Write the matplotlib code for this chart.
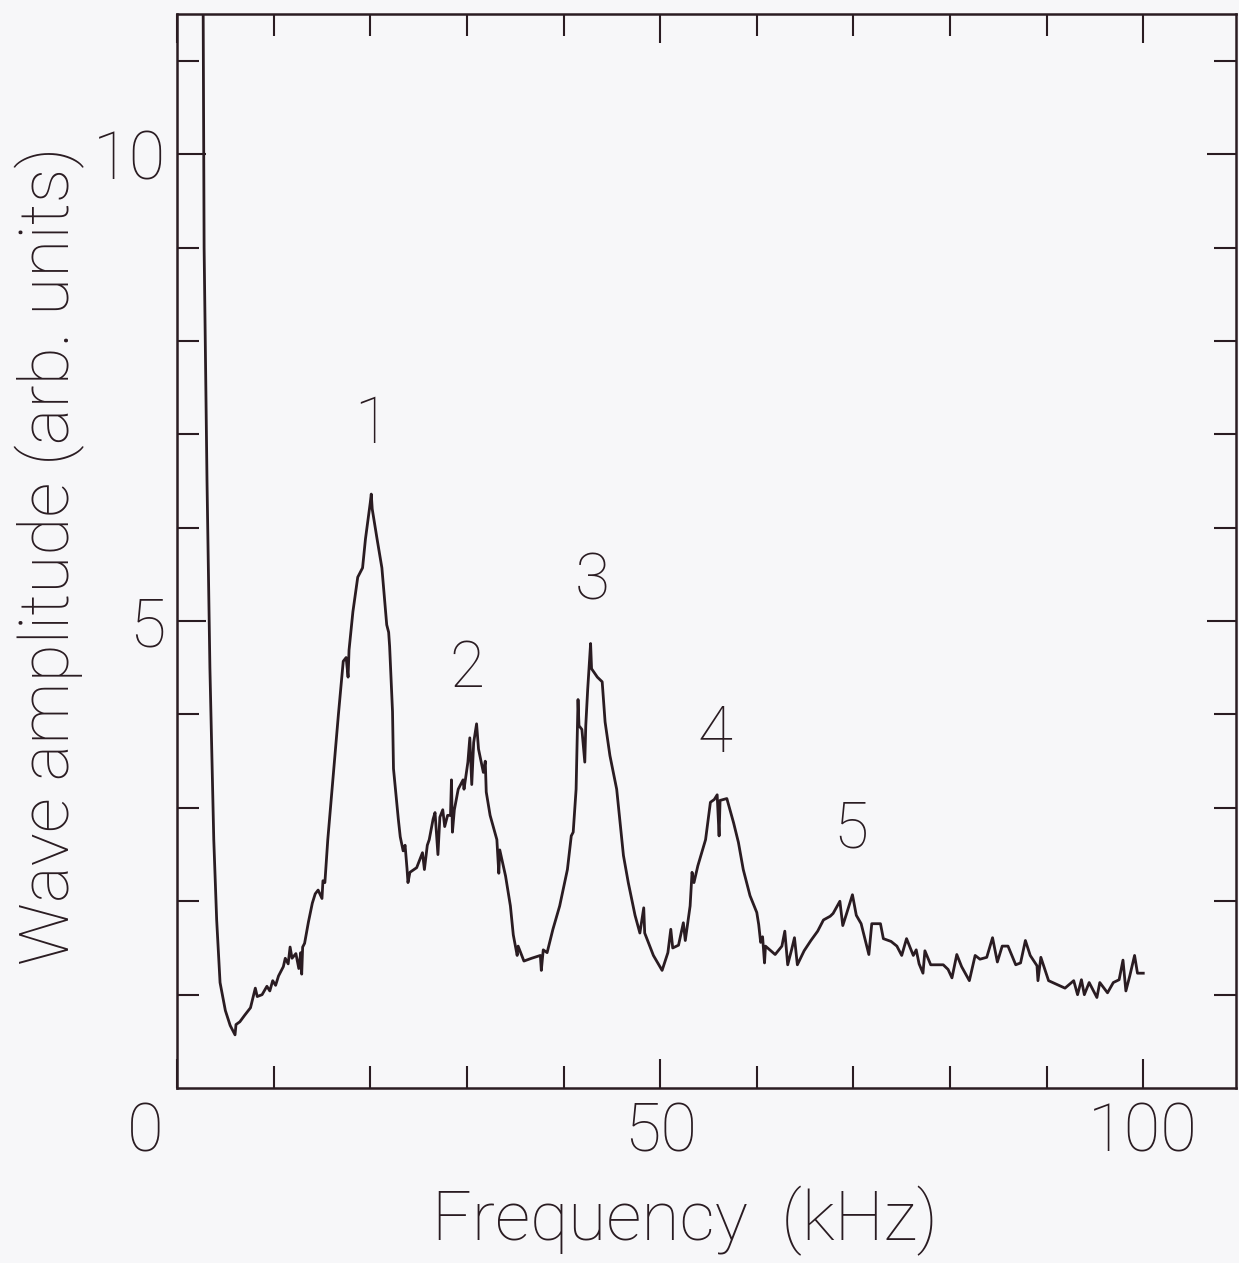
import numpy as np
import matplotlib
matplotlib.use("Agg")
import matplotlib.pyplot as plt
import matplotlib.transforms as mtransforms

# trace, piece by piece: (frequency kHz, amplitude arb. units)
drop = [
    (2.7, 11.6), (2.8, 9.0), (3.1, 6.5), (3.4, 4.5), (3.8, 2.66), (4.1, 1.8),
    (4.45, 1.13), (5.0, 0.83), (5.5, 0.67), (6.0, 0.57), (6.1, 0.68), (6.5, 0.71),
    (7.0, 0.78), (7.6, 0.86), (8.1, 1.07), (8.3, 0.98), (8.8, 1.0), (9.3, 1.09),
    (9.6, 1.04), (9.9, 1.15), (10.2, 1.1), (10.5, 1.2), (11.0, 1.3), (11.2, 1.39),
    (11.5, 1.33), (11.7, 1.51), (11.9, 1.39), (12.3, 1.44), (12.6, 1.28),
    (12.8, 1.45), (12.9, 1.22), (13.0, 1.51), (13.2, 1.55), (13.6, 1.78),
    (14.0, 1.98), (14.3, 2.08), (14.6, 2.12), (15.0, 2.03), (15.1, 2.22),
    (15.3, 2.2),
]
peak_1 = [
    (15.6, 2.66), (16.1, 3.27), (16.7, 4.0), (17.2, 4.57), (17.5, 4.61),
    (17.7, 4.4), (17.8, 4.69), (18.2, 5.1), (18.7, 5.47), (19.2, 5.57),
    (19.5, 5.88), (20.0, 6.27), (20.1, 6.36), (20.2, 6.2), (20.7, 5.88),
    (21.2, 5.57), (21.7, 4.96), (21.9, 4.88), (22.0, 4.73), (22.3, 4.03),
    (22.4, 3.42), (22.9, 2.88), (23.1, 2.69), (23.4, 2.54), (23.6, 2.6),
    (23.8, 2.35), (23.9, 2.2),
]
peak_2 = [
    (24.1, 2.31), (24.8, 2.36), (25.4, 2.52), (25.6, 2.34), (25.9, 2.6),
    (26.1, 2.66), (26.5, 2.88), (26.7, 2.95), (27.0, 2.5), (27.2, 2.9),
    (27.5, 2.98), (27.7, 2.8), (28.0, 2.92), (28.3, 2.92), (28.4, 3.3),
    (28.5, 2.74), (28.7, 2.98), (29.1, 3.2), (29.6, 3.3), (29.7, 3.2),
    (30.1, 3.49), (30.3, 3.75), (30.5, 3.25), (30.7, 3.7), (31.0, 3.9),
    (31.2, 3.63), (31.7, 3.38), (31.9, 3.5), (32.0, 3.17), (32.4, 2.92),
    (33.1, 2.66), (33.3, 2.3), (33.4, 2.55), (34.0, 2.27), (34.5, 1.95),
    (34.8, 1.64), (35.0, 1.53), (35.2, 1.42), (35.3, 1.52), (35.9, 1.36),
    (36.7, 1.39), (37.6, 1.42), (37.7, 1.26), (37.9, 1.48), (38.3, 1.45),
]
peak_3 = [
    (38.9, 1.7), (39.6, 1.95), (40.4, 2.34), (40.8, 2.7), (41.0, 2.74),
    (41.3, 3.2), (41.5, 4.16), (41.6, 3.88), (41.9, 3.84), (42.2, 3.49),
    (42.3, 3.88), (42.5, 4.27), (42.8, 4.76), (42.9, 4.49), (43.5, 4.4),
    (44.0, 4.35), (44.3, 3.92), (44.8, 3.56), (45.5, 3.2), (46.2, 2.49),
    (46.7, 2.2), (46.9, 2.1), (47.4, 1.85), (47.9, 1.66), (48.3, 1.93),
    (48.4, 1.66), (49.3, 1.42), (50.2, 1.26),
]
peak_4 = [
    (50.8, 1.45), (51.1, 1.7), (51.3, 1.5), (51.9, 1.53), (52.4, 1.77),
    (52.6, 1.58), (53.1, 1.95), (53.3, 2.31), (53.5, 2.2), (53.9, 2.38),
    (54.7, 2.66), (55.2, 3.06), (55.6, 3.09), (55.9, 3.14), (56.1, 2.7),
    (56.2, 3.08), (56.9, 3.1), (57.6, 2.84), (58.1, 2.63), (58.6, 2.34),
    (59.3, 2.06), (60.0, 1.88), (60.2, 1.75), (60.4, 1.56), (60.6, 1.62),
    (60.8, 1.34), (60.9, 1.52), (61.9, 1.43), (62.6, 1.52), (62.9, 1.68),
    (63.2, 1.32), (63.6, 1.48), (63.9, 1.61), (64.2, 1.32), (64.9, 1.47),
]
peak_5 = [
    (65.6, 1.58), (66.3, 1.68), (66.9, 1.8), (67.6, 1.84), (67.9, 1.87),
    (68.6, 2.0), (68.9, 1.74), (69.3, 1.87), (69.9, 2.07), (70.3, 1.85),
    (70.8, 1.76), (71.6, 1.43), (71.9, 1.76), (72.8, 1.76), (73.1, 1.6),
    (73.9, 1.57), (74.5, 1.52), (75.0, 1.42), (75.5, 1.6), (76.2, 1.42),
    (76.5, 1.48), (76.8, 1.33), (77.2, 1.23), (77.4, 1.47), (78.0, 1.32),
]
tail = [
    (79.3, 1.32), (79.8, 1.27), (80.2, 1.18), (80.7, 1.43), (81.2, 1.3),
    (82.0, 1.15), (82.6, 1.42), (83.1, 1.38), (83.8, 1.4), (84.4, 1.61),
    (84.9, 1.35), (85.4, 1.52), (86.0, 1.52), (86.8, 1.32), (87.3, 1.34),
    (87.8, 1.58), (88.3, 1.42), (89.0, 1.31), (89.1, 1.15), (89.4, 1.4),
    (90.2, 1.15), (91.9, 1.07), (92.8, 1.15), (93.2, 1.0), (93.6, 1.16),
    (93.9, 1.0), (94.4, 1.13), (95.2, 0.97), (95.5, 1.13), (96.3, 1.02),
    (96.9, 1.13), (97.5, 1.16), (97.9, 1.37), (98.2, 1.04), (98.6, 1.2),
    (99.1, 1.42), (99.4, 1.23), (100.0, 1.23),
]

peak_labels = ["1", "2", "3", "4", "5"]
peak_x = [20.1, 30.0, 43.0, 55.7, 69.7]
peak_y = [7.1, 4.49, 5.42, 3.79, 2.77]

ink = "#2a1c22"
paper = "#f7f7f9"

plt.rcParams["font.family"] = ["Roboto", "DejaVu Sans"]
plt.rcParams["font.weight"] = "light"
plt.rcParams["axes.labelweight"] = "light"

trace = drop + peak_1 + peak_2 + peak_3 + peak_4 + peak_5 + tail
freq_khz = [p[0] for p in trace]
amplitude = [p[1] for p in trace]

fig = plt.figure(figsize=(12.39, 12.63), dpi=100, facecolor=paper)
ax = fig.add_axes([0.1429, 0.1385, 0.8547, 0.8504])
ax.set_facecolor(paper)

ax.plot(freq_khz, amplitude, color=ink, lw=2.0)

for lab, x, y in zip(peak_labels, peak_x, peak_y):
    ax.text(x, y, lab, fontsize=46, color=ink, ha="center", va="center")

ax.set_xlim(0, 109.6)
ax.set_ylim(0, 11.5)

ax.set_xticks([0, 50, 100])
ax.set_xticks(np.arange(10, 100, 10), minor=True)
ax.set_yticks([5, 10])
ax.set_yticks([1, 2, 3, 4, 6, 7, 8, 9, 11], minor=True)
ax.set_xticklabels(["0", "50", "100"])
ax.set_yticklabels(["5", "10"])

ax.tick_params(which="both", direction="in", top=True, right=True,
               color=ink, width=1.5, labelsize=48, labelcolor=ink)
ax.tick_params(which="major", length=21, pad=10)
ax.tick_params(which="minor", length=16)
ax.tick_params(axis="y", which="major", pad=8)

# the "0" sits left of the corner in the original
lbl0 = ax.get_xticklabels()[0]
lbl0.set_horizontalalignment("right")
lbl0.set_transform(lbl0.get_transform() +
                   mtransforms.ScaledTranslation(-14 / 100, 0, fig.dpi_scale_trans))

for s in ax.spines.values():
    s.set_color(ink)
    s.set_linewidth(1.8)

ax.set_xlabel("Frequency  (kHz)", fontsize=50, color=ink)
ax.set_ylabel("Wave amplitude (arb. units)", fontsize=50, color=ink)
ax.xaxis.label.set_va("center")
ax.yaxis.label.set_va("center")
ax.xaxis.set_label_coords(0.48, -0.124)
ax.yaxis.set_label_coords(-0.12, 0.496)

fig.savefig("out.png", dpi=100, facecolor=paper)
